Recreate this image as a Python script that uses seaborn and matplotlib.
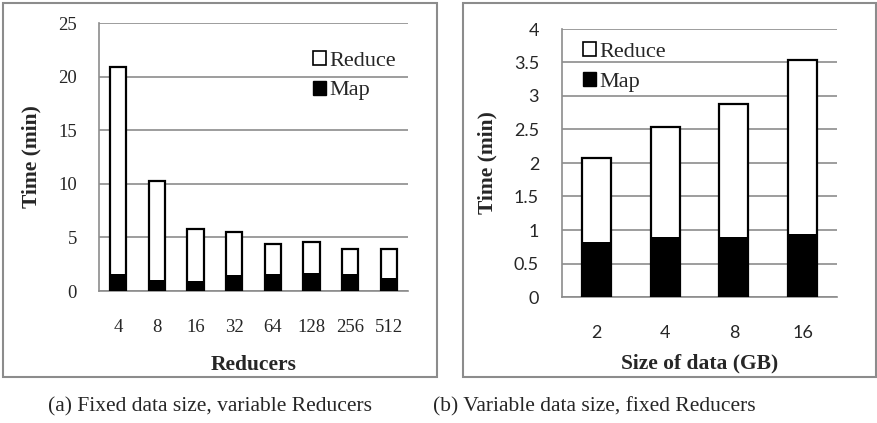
import numpy as np
import pandas as pd
import matplotlib
matplotlib.use("Agg")
import matplotlib.pyplot as plt
import seaborn as sns
from matplotlib.patches import Patch, Rectangle
from matplotlib.ticker import FuncFormatter

# Data
reducers = ["4", "8", "16", "32", "64", "128", "256", "512"]
total_a = [20.9, 10.28, 5.75, 5.53, 4.41, 4.53, 3.91, 3.88]
map_a = [1.58, 1.02, 0.93, 1.46, 1.55, 1.65, 1.55, 1.21]

data_sizes = ["2", "4", "8", "16"]
total_b = [2.08, 2.54, 2.88, 3.53]
map_b = [0.82, 0.89, 0.89, 0.94]

sns.set_style("white")
plt.rcParams["font.family"] = ["Liberation Serif", "DejaVu Serif"]

W, H = 877, 423
fig = plt.figure(figsize=(W / 100, H / 100), dpi=100)

GRID = "#8c8c8c"


def px_axes(x0, x1, ytop, ybot):
    return fig.add_axes([x0 / W, 1 - ybot / H, (x1 - x0) / W, (ybot - ytop) / H])


def draw_panel(ax, cats, total, mapv, ymax, ystep, xlabel, tick_font, legend_loc,
               ypad, xlabelpad, ylabelpad):
    df = pd.DataFrame({"cat": cats, "total": total, "map": mapv})
    sns.barplot(data=df, x="cat", y="total", order=cats, color="white",
                edgecolor="black", linewidth=1.6, width=0.42, saturation=1, ax=ax, zorder=3)
    sns.barplot(data=df, x="cat", y="map", order=cats, color="black",
                edgecolor="black", linewidth=0, width=0.42, saturation=1, ax=ax, zorder=4)
    n = len(cats)
    ax.set_xlim(-0.5, n - 0.5)
    ax.set_ylim(0, ymax)
    ax.set_yticks(np.arange(0, ymax + ystep / 2, ystep))
    ax.yaxis.set_major_formatter(FuncFormatter(lambda v, p: f"{v:g}"))
    ax.yaxis.grid(True, color=GRID, linewidth=1.2, zorder=0)
    ax.set_axisbelow(True)
    for s in ["top", "right"]:
        ax.spines[s].set_visible(False)
    for s in ["left", "bottom"]:
        ax.spines[s].set_color(GRID)
        ax.spines[s].set_linewidth(1.2)
    # category boundary ticks, labels centered on categories
    ax.set_xticks(np.arange(-0.5, n, 1.0))
    ax.set_xticklabels([])
    ax.set_xticks(np.arange(n), minor=True)
    ax.set_xticklabels(cats, minor=True, **tick_font)
    ax.tick_params(axis="x", which="major", length=4, width=1.2, color=GRID, direction="out")
    ax.tick_params(axis="x", which="minor", length=0, pad=20)
    ax.tick_params(axis="y", length=4, width=1.2, color=GRID, direction="out", pad=ypad)
    for lab in ax.get_yticklabels():
        lab.set(**tick_font)
    ax.set_xlabel(xlabel, fontsize=15.5, fontweight="bold", labelpad=xlabelpad)
    ax.set_ylabel("Time (min)", fontsize=15.5, fontweight="bold", labelpad=ylabelpad)
    handles = [Patch(facecolor="white", edgecolor="black", linewidth=1.2, label="Reduce"),
               Patch(facecolor="black", edgecolor="black", label="Map")]
    ax.legend(handles=handles, loc="upper left", bbox_to_anchor=legend_loc, frameon=False,
              fontsize=16, handlelength=0.6, handleheight=0.6, handletextpad=0.15,
              labelspacing=0.45, borderaxespad=0)


ax1 = px_axes(99, 408, 23, 291)
draw_panel(ax1, reducers, total_a, map_a, 25, 5, "Reducers",
           {"fontsize": 13.5, "family": ["Liberation Serif"]}, (0.663, 0.93),
           ypad=12, xlabelpad=14, ylabelpad=12)

ax2 = px_axes(562, 837, 29, 297)
draw_panel(ax2, data_sizes, total_b, map_b, 4, 0.5, "Size of data (GB)",
           {"fontsize": 13, "family": ["Lato", "DejaVu Sans"]}, (0.044, 0.985),
           ypad=12.5, xlabelpad=9, ylabelpad=12)

# panel borders
for x0, x1 in [(3, 437), (463, 876)]:
    fig.add_artist(Rectangle((x0 / W, 1 - 377 / H), (x1 - x0) / W, 374 / H,
                             transform=fig.transFigure, fill=False,
                             edgecolor=GRID, linewidth=1.5))

fig.text(48 / W, 1 - 407 / H, "(a) Fixed data size, variable Reducers", fontsize=15.5,
         va="center", ha="left")
fig.text(433 / W, 1 - 407 / H, "(b) Variable data size, fixed Reducers", fontsize=15.5,
         va="center", ha="left")

fig.savefig("out.png", dpi=100)
